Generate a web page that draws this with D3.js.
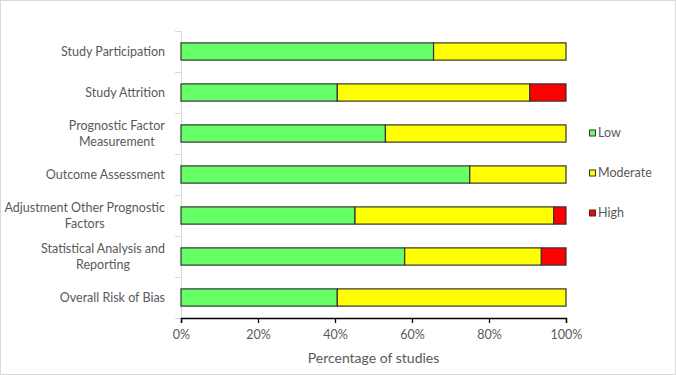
<!DOCTYPE html>
<html>
<head>
<meta charset="utf-8">
<script src="https://cdn.jsdelivr.net/npm/d3@7"></script>
<style>
  body { margin: 0; background: #fff; }
  text { font-family: Lato, "Open Sans", sans-serif; fill: #595959; }
</style>
</head>
<body>
<div id="chart"></div>
<script>
var width = 676;
var height = 375;

var domains = [
    ["Study Participation"],
    ["Study Attrition"],
    ["Prognostic Factor", "Measurement"],
    ["Outcome Assessment"],
    ["Adjustment Other Prognostic", "Factors"],
    ["Statistical Analysis and", "Reporting"],
    ["Overall Risk of Bias"]
];
var low      = [65.6, 40.6, 53.1, 75.0, 45.2, 58.1, 40.6];
var moderate = [34.4, 50.0, 46.9, 25.0, 51.6, 35.5, 59.4];
var high     = [0.0,  9.4,  0.0,  0.0,  3.2,  6.4,  0.0];
var levels = ["Low", "Moderate", "High"];
var colors = ["#66ff66", "#ffff00", "#ff0000"];
var xTicks = [0, 20, 40, 60, 80, 100];

var margin = {top: 31, right: 110, bottom: 57, left: 181};

var svg = d3.select("#chart").append("svg")
    .attr("width", width)
    .attr("height", height);

// chart area border
svg.append("rect")
    .attr("x", 0.5).attr("y", 0.5)
    .attr("width", width - 1).attr("height", height - 1)
    .attr("fill", "none")
    .attr("stroke", "#d9d9d9");

var names = domains.map(function(d) { return d.join(" "); });

var x = d3.scaleLinear().domain([0, 100]).range([margin.left, 566]);
var y = d3.scaleBand().domain(names).range([margin.top, height - margin.bottom]).paddingInner(0.58).paddingOuter(0.29);

// y axis (light gray line with ticks between categories)
var yLineG = svg.append("g");
yLineG.append("line")
    .attr("x1", x(0) + 0.5).attr("x2", x(0) + 0.5)
    .attr("y1", margin.top).attr("y2", height - margin.bottom)
    .attr("stroke", "#d9d9d9");
var step = (height - margin.bottom - margin.top) / names.length;
d3.range(names.length + 1).forEach(function(i) {
    yLineG.append("line")
        .attr("x1", x(0) - 6).attr("x2", x(0))
        .attr("y1", Math.round(margin.top + i * step) + 0.5)
        .attr("y2", Math.round(margin.top + i * step) + 0.5)
        .attr("stroke", "#d9d9d9");
});

// stacked data
var rows = names.map(function(n, i) {
    return {name: n, Low: low[i], Moderate: moderate[i], High: high[i]};
});
var stack = d3.stack().keys(levels)(rows);

svg.append("g").selectAll("g")
    .data(stack)
    .enter().append("g")
    .attr("fill", function(d, i) { return colors[i]; })
    .selectAll("rect")
    .data(function(d) { return d; })
    .enter().filter(function(d) { return d[1] - d[0] > 0; })
    .append("rect")
    .attr("x", function(d) { return x(d[0]); })
    .attr("y", function(d) { return y(d.data.name); })
    .attr("width", function(d) { return x(d[1]) - x(d[0]); })
    .attr("height", y.bandwidth())
    .attr("stroke", "#333")
    .attr("stroke-width", 1.2);

// category labels (Excel style: multi-line centered, right edge at axis)
var labelG = svg.append("g");
domains.forEach(function(lines, i) {
    var cy = y(names[i]) + y.bandwidth() / 2;
    var t = labelG.append("text")
        .attr("font-size", "12.5px")
        .attr("text-anchor", "middle");
    var lh = 16.7;
    lines.forEach(function(l, j) {
        t.append("tspan")
            .attr("x", 0)
            .attr("y", cy + (j - (lines.length - 1) / 2) * lh)
            .attr("dy", "0.35em")
            .text(l);
    });
    var w = t.node().getBBox().width;
    t.attr("transform", "translate(" + (165 - w / 2) + ",0)");
});

// x axis
var xAxis = svg.append("g")
    .attr("transform", "translate(0," + (height - margin.bottom) + ")")
    .call(d3.axisBottom(x).tickValues(xTicks).tickSize(5).tickFormat(function(d) { return d + "%"; }));
xAxis.select(".domain").attr("stroke", "#000").attr("stroke-width", 1.3);
xAxis.selectAll(".tick line").attr("stroke", "#000").attr("stroke-width", 1.3);
xAxis.selectAll(".tick text")
    .attr("font-size", "12.5px")
    .attr("y", 12)
    .style("font-family", "Lato, 'Open Sans', sans-serif")
    .attr("fill", "#595959");

svg.append("text")
    .attr("x", (x(0) + x(100)) / 2)
    .attr("y", 358)
    .attr("dy", "0.35em")
    .attr("text-anchor", "middle")
    .attr("font-size", "14px")
    .text("Percentage of studies");

// legend
var legend = svg.append("g").selectAll("g")
    .data(levels)
    .enter().append("g")
    .attr("transform", function(d, i) { return "translate(589," + (133 + i * 40) + ")"; });
legend.append("rect")
    .attr("x", 0.5).attr("y", -3)
    .attr("width", 6).attr("height", 6)
    .attr("fill", function(d, i) { return colors[i]; })
    .attr("stroke", "#333");
legend.append("text")
    .attr("x", 9)
    .attr("dy", "0.35em")
    .attr("font-size", "12.5px")
    .text(function(d) { return d; });
</script>
</body>
</html>
